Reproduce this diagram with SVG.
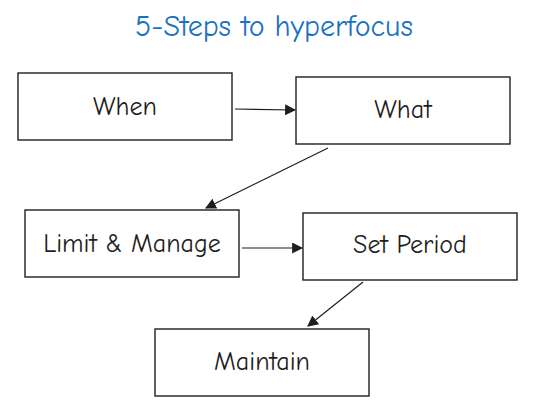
<svg xmlns="http://www.w3.org/2000/svg" width="537" height="418" viewBox="0 0 537 418">
<style>
.box{fill:#ffffff;stroke:#1e1e1e;stroke-width:1.4}
.lbl{font-family:"Comic Neue","Liberation Sans",sans-serif;font-size:26px;fill:#1e1e1e;text-anchor:middle;dominant-baseline:central}
.title{font-family:"Comic Neue","Liberation Sans",sans-serif;font-size:30px;fill:#1971c2;text-anchor:middle}
.edge{stroke:#1e1e1e;stroke-width:1.2;fill:none}
</style>
<defs>
<marker id="ah" viewBox="0 0 10 10" refX="9" refY="5" markerWidth="11" markerHeight="11" markerUnits="userSpaceOnUse" orient="auto">
<path d="M0,0 L10,5 L0,10 Z" fill="#1e1e1e"/>
</marker>
</defs>
<rect width="537" height="418" fill="#ffffff"/>
<text class="title" x="274" y="36">5-Steps to hyperfocus</text>
<g id="node-when"><rect class="box" x="18" y="73" width="214" height="67"/><text class="lbl" x="125" y="107">When</text></g>
<g id="node-what"><rect class="box" x="296" y="77" width="214" height="67"/><text class="lbl" x="403" y="110">What</text></g>
<g id="node-limit"><rect class="box" x="25" y="210" width="214" height="67"/><text class="lbl" x="132" y="244">Limit &amp; Manage</text></g>
<g id="node-set"><rect class="box" x="303" y="213" width="214" height="67"/><text class="lbl" x="410" y="245">Set Period</text></g>
<g id="node-maintain"><rect class="box" x="155" y="329" width="214" height="67"/><text class="lbl" x="262" y="362">Maintain</text></g>
<g id="connectors">
<line class="edge" x1="235" y1="109" x2="295" y2="110" marker-end="url(#ah)"/>
<line class="edge" x1="328" y1="148" x2="206" y2="208" marker-end="url(#ah)"/>
<line class="edge" x1="242" y1="248" x2="302" y2="248" marker-end="url(#ah)"/>
<line class="edge" x1="363" y1="282" x2="308" y2="326" marker-end="url(#ah)"/>
</g>
</svg>
